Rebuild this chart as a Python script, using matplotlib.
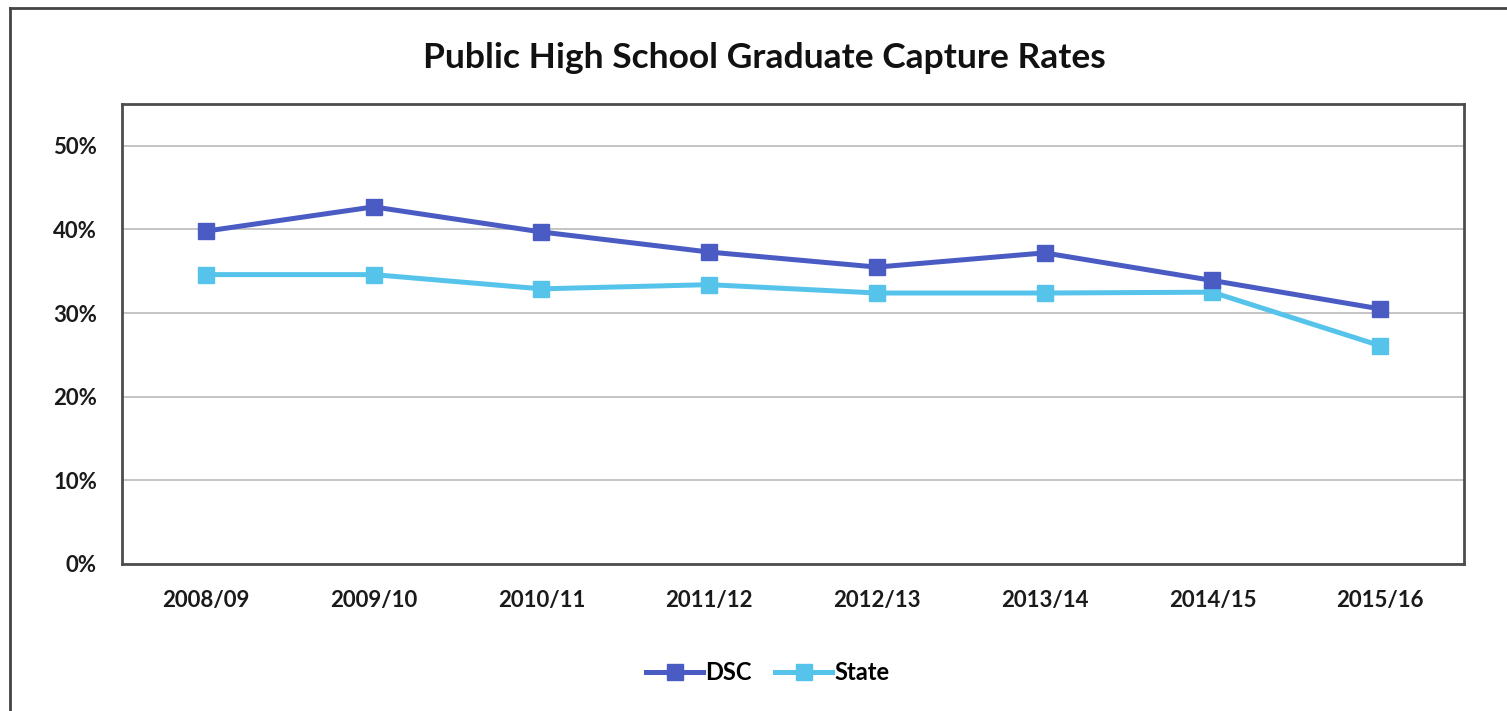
import matplotlib.pyplot as plt
from matplotlib.lines import Line2D
from matplotlib.ticker import PercentFormatter

plt.rcParams['font.family'] = ['Lato', 'DejaVu Sans']
plt.rcParams['font.weight'] = 'bold'

# data
years = ['2008/09', '2009/10', '2010/11', '2011/12', '2012/13', '2013/14', '2014/15', '2015/16']
dsc = [39.8, 42.7, 39.7, 37.3, 35.5, 37.2, 33.9, 30.5]
state = [34.6, 34.6, 32.9, 33.4, 32.4, 32.4, 32.5, 26.1]

fig = plt.figure(figsize=(15.07, 7.11), dpi=100)
ax = fig.add_axes([122/1507, 1 - 564/711, 1342/1507, 460/711])

x = range(len(years))
ax.plot(x, dsc, color='#4a5cc4', lw=3.6, marker='s', ms=12, label='DSC', zorder=4)
ax.plot(x, state, color='#56c4ea', lw=3.6, marker='s', ms=12, label='State', zorder=3)

ax.set_xlim(-0.5, 7.5)
ax.set_ylim(0, 55)
ax.set_yticks([0, 10, 20, 30, 40, 50])
ax.yaxis.set_major_formatter(PercentFormatter(decimals=0))
ax.set_xticks(list(x))
ax.set_xticklabels(years)
ax.tick_params(length=0, labelsize=16, colors='#1a1a1a')
ax.tick_params(axis='y', pad=18)
ax.tick_params(axis='x', pad=19)
ax.grid(axis='y', color='#c4c4c4', lw=1.4)
ax.set_axisbelow(True)
for s in ax.spines.values():
    s.set_color('#4d4d4d')
    s.set_linewidth(2)

fig.suptitle('Public High School Graduate Capture Rates', x=764/1507, y=1 - 58/711,
             va='center', fontsize=25.5, fontweight='bold', color='#111111')

fig.legend(loc='center', bbox_to_anchor=(768/1507, 1 - 673/711), ncol=2, frameon=False,
           fontsize=17, handlelength=2.4, columnspacing=1.0, handletextpad=0.1)

# outer chart border (left and top edges visible)
fig.add_artist(Line2D([10/1507, 10/1507], [0, 1 - 8/711], transform=fig.transFigure,
                      color='#444444', lw=2))
fig.add_artist(Line2D([10/1507, 1], [1 - 8/711, 1 - 8/711], transform=fig.transFigure,
                      color='#444444', lw=2))

fig.savefig('out.png', dpi=100)
